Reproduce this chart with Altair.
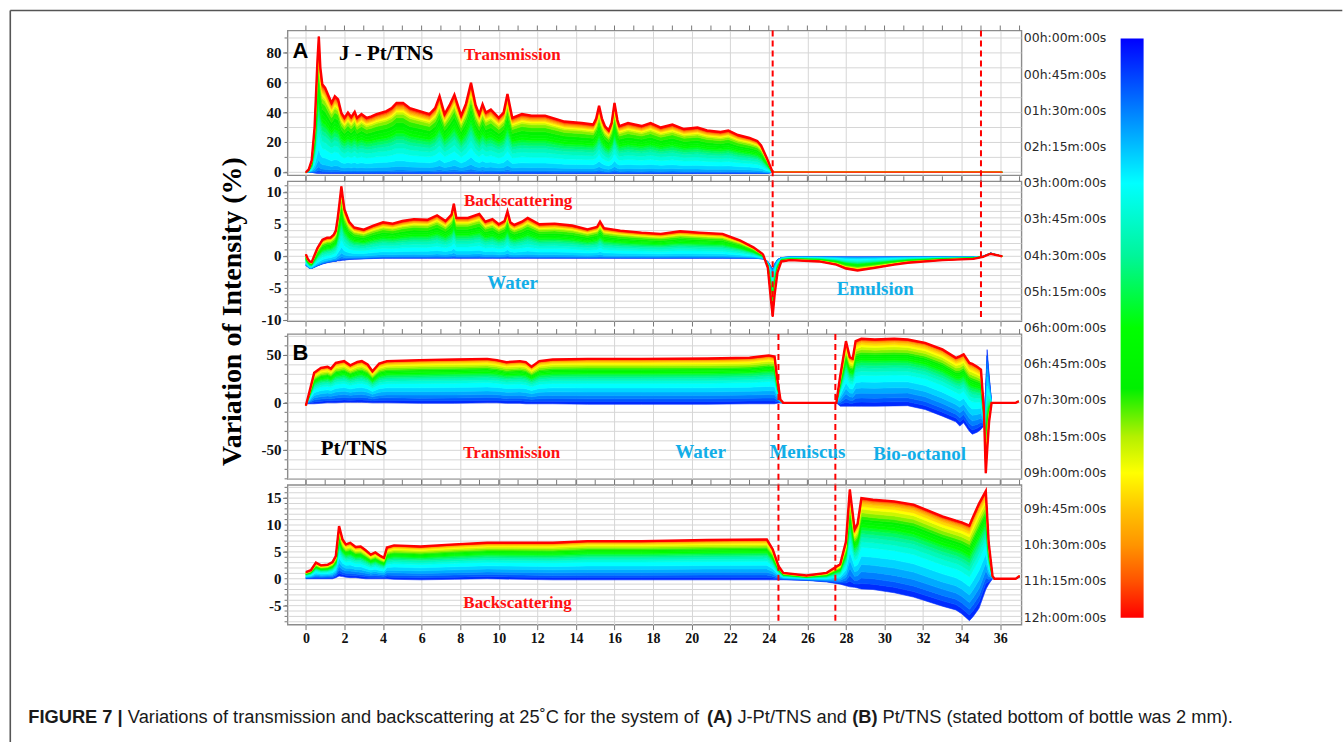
import altair as alt
import pandas as pd

# ---------------- data ----------------
# time levels (h) of the successive scans and the share of the final change reached at each
times = [0, 0.5, 1, 1.5, 2, 2.5, 3, 3.5, 4, 4.5, 5, 5.5, 6, 6.5, 7, 7.5, 8, 8.5, 9, 9.5, 10, 10.5, 11, 11.5, 12]
frac_A = [0, 0.01, 0.025, 0.05, 0.1, 0.18, 0.28, 0.36, 0.43, 0.48, 0.53, 0.57, 0.61, 0.66, 0.72,
          0.79, 0.84, 0.87, 0.895, 0.915, 0.935, 0.955, 0.97, 0.985, 1.0]
frac_B = [0, 0.06, 0.12, 0.19, 0.27, 0.36, 0.46, 0.52, 0.57, 0.61, 0.65, 0.68, 0.71, 0.74, 0.77,
          0.8, 0.84, 0.88, 0.91, 0.94, 0.96, 0.975, 0.985, 0.993, 1.0]

# (A) J-Pt/TNS transmission: final (12 h) curve and first-scan curve
pos_AT = [0.0, 0.15, 0.3, 0.45, 0.6, 0.67, 0.75, 0.85, 1.0, 1.15, 1.33, 1.5, 1.67, 1.84, 2.0, 2.18, 2.35,
          2.53, 2.65, 2.88, 3.14, 3.4, 3.66, 4.18, 4.45, 4.7, 5.04, 5.39, 5.9, 6.41, 6.7, 6.93, 7.19,
          7.45, 7.7, 8.05, 8.3, 8.56, 8.8, 8.99, 9.16, 9.33, 9.59, 10.0, 10.25, 10.45, 10.7, 11.2,
          11.7, 12.4, 12.9, 13.4, 14.3, 14.9, 15.05, 15.2, 15.35, 15.5, 15.7, 15.85, 16.0, 16.15,
          16.25, 16.7, 17.4, 17.87, 18.4, 19.0, 19.6, 20.3, 20.8, 21.5, 21.9, 22.4, 23.0, 23.4, 23.6,
          23.9, 24.2, 30.0, 36.1]
hi_AT = [0, 2, 8, 30, 75, 91, 70, 59, 56.6, 52, 46.5, 51, 48.8, 39.8, 36.5, 40, 37, 40.5, 36.5, 39,
         36.5, 37.5, 39, 41, 43, 46.5, 46.5, 43, 41, 39, 43, 51, 39, 45, 52, 38, 46, 60, 45, 39, 45.6,
         40, 42, 36.5, 40, 52.5, 36.5, 39, 38, 38, 36, 34, 33, 32, 36, 44.5, 36, 31, 28, 33, 46.5, 35,
         31, 33, 31, 33, 30, 32, 29, 30, 28, 27, 28, 25, 23, 21, 18, 9.5, 0, 0, 0]
lo_AT = [0, 0, 0, -0.5] + [-0.8] * 74 + [0, 0, 0]

# (A) J-Pt/TNS backscattering
pos_AB = [0.0, 0.1, 0.2, 0.3, 0.45, 0.6, 0.86, 1.1, 1.29, 1.45, 1.55, 1.65, 1.75, 1.84, 1.92, 2.0,
          2.24, 2.5, 3.0, 3.5, 4.0, 4.5, 5.0, 5.6, 6.3, 6.8, 7.24, 7.55, 7.67, 7.8, 8.4, 8.99, 9.3,
          9.67, 10.0, 10.3, 10.45, 10.6, 10.8, 11.2, 11.5, 12.1, 12.9, 13.8, 14.6, 15.1, 15.25, 15.45,
          16.3, 17.4, 18.4, 19.4, 20.4, 21.6, 22.5, 23.2, 23.7, 23.95, 24.1, 24.2, 24.3, 24.45, 24.65,
          25.1, 26.6, 27.5, 28.0, 28.6, 29.5, 30.5, 31.2, 33.0, 34.6, 35.1, 35.5, 36.1]
hi_AB = [0.3, -0.4, -0.8, -0.9, 0.2, 1.3, 2.6, 2.9, 2.95, 3.4, 4.0, 6.0, 8.5, 10.9, 9.0, 7.3, 5.4,
         4.5, 4.15, 4.8, 5.3, 5.1, 5.5, 5.8, 5.7, 6.4, 5.5, 6.5, 8.2, 6.0, 6.0, 6.6, 5.4, 5.8, 5.0,
         5.5, 7.0, 5.3, 4.9, 5.4, 6.0, 5.0, 5.1, 4.8, 4.2, 4.6, 5.4, 4.4, 4.0, 3.7, 3.5, 3.9, 3.7,
         3.5, 2.5, 1.4, 0.3, -1.8, -6.5, -9.3, -6.0, -2.5, -0.8, -0.6, -0.8, -1.3, -1.9, -2.2, -1.8,
         -1.3, -1.0, -0.6, -0.4, -0.1, 0.4, 0.0]
lo_AB = [-1.4, -1.7, -1.9, -1.9, -1.7, -1.5, -1.2, -1.0, -0.9, -0.8, -0.8, -0.7, -0.7, -0.65, -0.6,
         -0.6, -0.5, -0.45, -0.4, -0.35] + [-0.3] * 36 + [-0.4, -0.8, -1.5, -2.0, -1.2, -0.5, -0.2] \
        + [-0.1] * 10 + [0.0, 0.5, 0.0]

# (B) Pt/TNS transmission
pos_BT = [0.0, 0.17, 0.43, 0.78, 1.12, 1.3, 1.55, 1.98, 2.3, 2.67, 2.9, 3.2, 3.45, 3.8, 4.2, 5.9, 7.7,
          9.4, 9.9, 10.4, 11.1, 11.4, 11.7, 12.1, 12.8, 14.6, 17.4, 20.8, 23.0, 24.0, 24.3, 24.42,
          24.6, 24.75, 27.5, 27.7, 27.9, 28.0, 28.2, 28.35, 28.5, 28.8, 29.5, 30.5, 31.2, 32.1, 33.0,
          33.7, 33.9, 34.1, 34.4, 34.55, 34.8, 35.0, 35.15, 35.25, 35.32, 35.42, 35.55, 36.8, 36.95]
hi_BT = [-2.8, 10.5, 31.6, 36.8, 38.0, 36.0, 42.0, 43.9, 39.5, 43.0, 43.9, 40.4, 33.3, 41.4, 43.9,
         45.0, 45.6, 46.3, 45.0, 42.8, 43.9, 42.8, 37.9, 43.9, 45.6, 46.3, 46.3, 46.7, 47.5, 49.9,
         48.8, 28.0, 3.5, 0.0, 0.0, 28.0, 52.6, 65.0, 48.0, 46.5, 65.0, 67.4, 66.7, 67.4, 66.7, 63.2,
         56.2, 47.4, 49.0, 51.0, 42.0, 41.0, 38.0, 35.0, -7.0, -74.0, -50.0, -20.0, 0.0, 0.0, 1.5]
lo_BT = [-1.0, -1.0, -1.0, -0.5, 0.0, 0.0, 0.0, 0.5, 0.5, 0.5, 0.5, 0.3, 0.0, 0.0, 0.0, -0.5, -0.5,
         0.0, 0.0, -0.5, -0.5, -1.0, -1.0, -1.0, -1.0, -1.5, -1.5, -1.5, -1.0, -1.0, -1.0, -0.5,
         0.0, 0.0, 0.0, -3.5, -3.5, -3.5, -3.5, -3.5, -3.5, -3.5, -3.5, -3.2, -3.0, -7.0, -14.0,
         -20.0, -24.5, -21.0, -30.0, -33.0, -31.0, -28.0, -24.0, 20.0, 56.0, 30.0, 0.0, 0.0, 1.5]

# (B) Pt/TNS backscattering
pos_BB = [0.0, 0.26, 0.52, 0.78, 1.12, 1.38, 1.55, 1.72, 1.9, 2.07, 2.3, 2.58, 2.84, 3.1, 3.36, 3.6,
          3.88, 4.05, 4.2, 4.57, 5.95, 7.7, 9.4, 12.8, 14.6, 17.4, 20.8, 23.9, 24.2, 24.5, 24.75,
          25.95, 27.0, 27.7, 28.0, 28.2, 28.45, 28.6, 28.8, 29.4, 30.5, 31.5, 33.0, 33.7, 34.0, 34.4,
          34.6, 34.9, 35.25, 35.4, 35.6, 35.7, 36.8, 37.0]
hi_BB = [1.24, 1.6, 3.0, 2.5, 2.6, 3.1, 4.2, 9.8, 7.3, 6.4, 6.7, 5.9, 6.0, 5.3, 4.5, 4.9, 4.2, 3.9,
         5.8, 6.2, 6.0, 6.4, 6.7, 6.7, 7.0, 7.0, 7.2, 7.3, 5.5, 2.4, 1.1, 0.6, 1.1, 2.7, 6.9, 16.6,
         9.2, 10.2, 15.0, 14.7, 14.4, 13.8, 11.6, 10.8, 10.5, 9.9, 11.6, 14.0, 16.3, 6.7, 0.5, 0.0,
         0.0, 0.5]
lo_BB = [0.0, 0.0, 0.0, 0.0, 0.0, 0.0, 0.2, 0.5, 0.4, 0.3, 0.2, 0.2, 0.1, 0.0, 0.0, 0.0, 0.0, 0.0,
         0.0, -0.1, -0.2, -0.1, 0.0, -0.2, -0.2, -0.2, -0.2, -0.2, -0.2, -0.2, -0.2, -0.3, -0.6,
         -1.0, -1.3, -1.5, -1.6, -1.7, -1.9, -2.0, -2.6, -3.4, -5.1, -5.8, -6.5, -7.8, -7.0, -5.5,
         -2.0, -1.0, 0.0, 0.0, 0.0, 0.3]

for p, h, l in [(pos_AT, hi_AT, lo_AT), (pos_AB, hi_AB, lo_AB), (pos_BT, hi_BT, lo_BT), (pos_BB, hi_BB, lo_BB)]:
    assert len(p) == len(h) == len(l), (len(p), len(h), len(l))

dash_A = [24.2, 35.0]
dash_B = [24.5, 27.45]
x_ticks = list(range(0, 38))

# y-axis tick labels and horizontal grid levels of the four panels
ylab_AT = [0, 20, 40, 60, 80]
ygrid_AT = list(range(0, 100, 10))
ylab_AB = [-10, -5, 0, 5, 10]
ygrid_AB = list(range(-10, 12))
ylab_BT = [-50, 0, 50]
ygrid_BT = list(range(-80, 80, 10))
ylab_BB = [-5, 0, 5, 10, 15]
ygrid_BB = list(range(-8, 18))

# colour bar (time in h -> colour)
tc = [0, 1.5, 3, 4.5, 6, 7.25, 8.25, 9, 9.75, 10.5, 11.25, 12]
cc = ["#0000ff", "#0080ff", "#00ffff", "#00f59a", "#00ff00", "#00f000", "#b4f000", "#ffff00",
      "#ffc400", "#ff9400", "#ff5200", "#ff0000"]
time_ticks = [0, 0.75, 1.5, 2.25, 3, 3.75, 4.5, 5.25, 6, 6.75, 7.5, 8.25, 9, 9.75, 10.5, 11.25, 12]
time_labels = ["00h:00m:00s", "00h:45m:00s", "01h:30m:00s", "02h:15m:00s", "03h:00m:00s",
               "03h:45m:00s", "04h:30m:00s", "05h:15m:00s", "06h:00m:00s", "06h:45m:00s",
               "07h:30m:00s", "08h:15m:00s", "09h:00m:00s", "09h:45m:00s", "10h:30m:00s",
               "11h:15m:00s", "12h:00m:00s"]

# ---------------- layout / style ----------------
X0 = 286.7
W = 735
XDOM = [-0.95, 37.1]
SERIF = "Liberation Serif"
SANS = "Liberation Sans"
RED = "#ff1010"
CYAN = "#12aee8"
GRID = "#d6d6d6"
TICK = "#777777"
color_scale = alt.Scale(domain=tc, range=cc, interpolate="rgb")


def bands_df(pos, hi, lo, frac):
    rows = []
    for k in range(1, len(times)):
        for x, h, l in zip(pos, hi, lo):
            rows.append({"x": x, "y": l + frac[k - 1] * (h - l), "y2": l + frac[k] * (h - l),
                         "t": times[k], "band": k})
    return pd.DataFrame(rows)


def text_layer(s, ax, ay, oy, size, color, font=SERIF, weight="bold", align="left",
               baseline="alphabetic", angle=0):
    return alt.Chart(pd.DataFrame({"s": [s]})).mark_text(
        align=align, baseline=baseline, font=font, fontSize=size, fontWeight=weight,
        color=color, angle=angle
    ).encode(x=alt.value(ax - X0), y=alt.value(ay - oy), text="s:N")


def panel_layers(pos, hi, lo, frac, ydom, ygrid, ylabels, oy, dashes, dash_len, texts,
                 bottom=False, thin_from=None):
    if bottom:
        xaxis = alt.Axis(values=x_ticks, grid=True, labels=True, tickSize=5, domain=False,
                         labelExpr="datum.value % 2 == 0 ? '' + datum.value : ''",
                         labelFontSize=14, labelPadding=2, labelFlush=False, labelOverlap=False,
                         title="Position (mm)", titleFont=SERIF, titleFontSize=28,
                         titleFontWeight="bold", titleColor="#000000", titleX=385,
                         titleY=47.7, titleBaseline="alphabetic")
    else:
        xaxis = alt.Axis(values=x_ticks, grid=True, labels=False, tickSize=5, domain=False, title=None)
    yaxis = alt.Axis(values=ylabels, grid=False, title=None, tickSize=5, domain=False, labels=False)
    yscale = alt.Scale(domain=ydom, nice=False, zero=False)
    gdf = pd.DataFrame({"g": ygrid})
    hgrid = alt.Chart(gdf).mark_rule(color=GRID, strokeWidth=1).encode(
        y=alt.Y("g:Q", scale=yscale, axis=yaxis), x=alt.value(0), x2=alt.value(W))
    minor = alt.Chart(gdf).mark_rule(color=TICK, strokeWidth=1).encode(
        y=alt.Y("g:Q", title=None), x=alt.value(-3), x2=alt.value(0))
    ylab = alt.Chart(pd.DataFrame({"v": ylabels, "s": [str(v) for v in ylabels]})).mark_text(
        align="right", baseline="middle", font=SERIF, fontWeight="bold", fontSize=15,
        color="#111111").encode(y=alt.Y("v:Q", title=None), x=alt.value(-6), text="s:N")
    df = bands_df(pos, hi, lo, frac)
    area = alt.Chart(df).mark_area(strokeWidth=0.6).encode(
        x=alt.X("x:Q", scale=alt.Scale(domain=XDOM, nice=False, zero=False), axis=xaxis),
        y=alt.Y("y:Q", title=None, stack=None),
        y2="y2:Q",
        color=alt.Color("t:Q", scale=color_scale, legend=None),
        stroke=alt.Stroke("t:Q", scale=color_scale, legend=None),
        detail="band:N",
    )
    hdf = pd.DataFrame({"x": pos, "hi": hi})
    thick_df = hdf if thin_from is None else hdf[hdf["x"] <= thin_from]
    line = alt.Chart(thick_df).mark_line(color="#ff0000", strokeWidth=2.4).encode(
        x=alt.X("x:Q", title=None), y=alt.Y("hi:Q", title=None))
    layers_lines = [line]
    if thin_from is not None:
        thin = alt.Chart(hdf[hdf["x"] >= thin_from]).mark_line(
            color="#ff4a1a", strokeWidth=1.1).encode(
            x=alt.X("x:Q", title=None), y=alt.Y("hi:Q", title=None))
        layers_lines.append(thin)
    dash = alt.Chart(pd.DataFrame({"x": dashes})).mark_rule(
        color="#ff0000", strokeWidth=2, strokeDash=[6, 4]).encode(
        x=alt.X("x:Q", title=None), y=alt.value(0), y2=alt.value(dash_len))
    topticks = alt.Chart(pd.DataFrame({"x": x_ticks})).mark_rule(
        color=TICK, strokeWidth=1).encode(
        x=alt.X("x:Q", title=None), y=alt.value(-5), y2=alt.value(0))
    layers = [hgrid, area] + layers_lines + [dash, topticks, minor, ylab]
    for (s, ax, ay, size, col, font) in texts:
        layers.append(text_layer(s, ax, ay, oy, size, col, font=font))
    return layers


# ---- panel 1 : (A) transmission, plus figure frame, caption, y title and colour bar ----
OY1, OY2, OY3, OY4 = 29, 180, 333, 484
p1_layers = panel_layers(
    pos_AT, hi_AT, lo_AT, frac_A, [-2, 95], ygrid_AT, ylab_AT, OY1, dash_A, 151,
    [("A", 291.7, 56.7, 22, "#000000", SANS),
     ("J - Pt/TNS", 338.3, 58.3, 21, "#000000", SERIF),
     ("Transmission", 463.3, 58.3, 17, RED, SERIF)], thin_from=24.2)

one = pd.DataFrame({"a": [0]})
frame_top = alt.Chart(one).mark_rule(color="#555555", strokeWidth=1.6).encode(
    x=alt.value(9 - X0), x2=alt.value(1343 - X0), y=alt.value(9 - OY1))
frame_left = alt.Chart(one).mark_rule(color="#555555", strokeWidth=1.6).encode(
    x=alt.value(9 - X0), y=alt.value(9 - OY1), y2=alt.value(742 - OY1))
p1_layers += [frame_top, frame_left]

p1_layers.append(text_layer("Variation of Intensity (%)", 240, 310.5, OY1, 28, "#000000",
                            font=SERIF, align="center", angle=270))

caption = [("FIGURE 7 |", 27, "bold"),
           ("Variations of transmission and backscattering at 25˚C for the system of", 126.7, "normal"),
           ("(A)", 706.7, "bold"),
           ("J-Pt/TNS and", 737.2, "normal"),
           ("(B)", 852.1, "bold"),
           ("Pt/TNS (stated bottom of bottle was 2 mm).", 882.6, "normal")]
for s, ax, wt in caption:
    p1_layers.append(alt.Chart(pd.DataFrame({"s": [s]})).mark_text(
        align="left", baseline="alphabetic", font=SANS, fontSize=18.3, fontWeight=wt,
        color="#1a1a1a").encode(x=alt.value(ax - X0), y=alt.value(723 - OY1), text="s:N"))

PXH = 580 / 12.0
tscale = alt.Scale(domain=[-8 / PXH, (145 - 8) / PXH], reverse=True, nice=False, zero=False)
cbar = alt.Chart(pd.DataFrame({"t0": [0], "t1": [12]})).mark_rect(
    color=alt.LinearGradient(gradient="linear",
                             stops=[alt.GradientStop(color=c, offset=t / 12.0) for t, c in zip(tc, cc)],
                             x1=0, x2=0, y1=0, y2=1)
).encode(x=alt.value(1121 - X0), x2=alt.value(1144 - X0),
         y=alt.Y("t0:Q", scale=tscale, axis=None), y2="t1:Q")
tlabels = alt.Chart(pd.DataFrame({"t": time_ticks, "lab": time_labels})).mark_text(
    align="left", baseline="middle", font="DejaVu Sans", fontSize=12.5, color="#2a2a2a"
).encode(x=alt.value(1024 - X0), y=alt.Y("t:Q", axis=None, title=None), text="lab:N")

P1 = alt.layer(alt.layer(*p1_layers), alt.layer(cbar, tlabels)).resolve_scale(
    y="independent").properties(width=W, height=145)

P2 = alt.layer(*panel_layers(
    pos_AB, hi_AB, lo_AB, frac_A, [-10.1, 11.7], ygrid_AB, ylab_AB, OY2, dash_A, 140,
    [("Backscattering", 463.3, 204.5, 17, RED, SERIF),
     ("Water", 486.7, 288.3, 19, CYAN, SERIF),
     ("Emulsion", 836.7, 293.5, 19, CYAN, SERIF)])).properties(width=W, height=140)

# 1-px invisible spacer that widens the gap between the A and B blocks
spacer = alt.Chart(one).mark_point(opacity=0).encode(
    x=alt.value(0), y=alt.value(0)).properties(
    width=W, height=1, view=alt.ViewBackground(stroke="transparent"))

P3 = alt.layer(*panel_layers(
    pos_BT, hi_BT, lo_BT, frac_B, [-80, 72.4], ygrid_BT, ylab_BT, OY3, dash_B, 151,
    [("B", 291.7, 359.3, 22, "#000000", SANS),
     ("Pt/TNS", 320, 454.5, 21, "#000000", SERIF),
     ("Transmission", 462.7, 457.3, 17, RED, SERIF),
     ("Water", 675, 457.3, 19, CYAN, SERIF),
     ("Meniscus", 769.3, 457.3, 19, CYAN, SERIF),
     ("Bio-octanol", 873.3, 459, 19, CYAN, SERIF)])).properties(width=W, height=145)

P4 = alt.layer(*panel_layers(
    pos_BB, hi_BB, lo_BB, frac_B, [-8.53, 17.47], ygrid_BB, ylab_BB, OY4, dash_B, 140,
    [("Backscattering", 462.7, 607.5, 17, RED, SERIF)], bottom=True)).properties(width=W, height=140)

chart = alt.vconcat(P1, P2, spacer, P3, P4, spacing=6, bounds="flush").properties(
    padding={"left": 8, "top": 8, "right": 0, "bottom": 0}, background="white"
).configure_view(
    stroke="#8c8c8c", strokeWidth=1.4
).configure_axis(
    labelFont=SERIF, labelFontWeight="bold", labelColor="#111111",
    tickColor=TICK, gridColor=GRID, gridWidth=1
)

chart.save("out.html", embed_options={"renderer": "svg", "actions": False})
